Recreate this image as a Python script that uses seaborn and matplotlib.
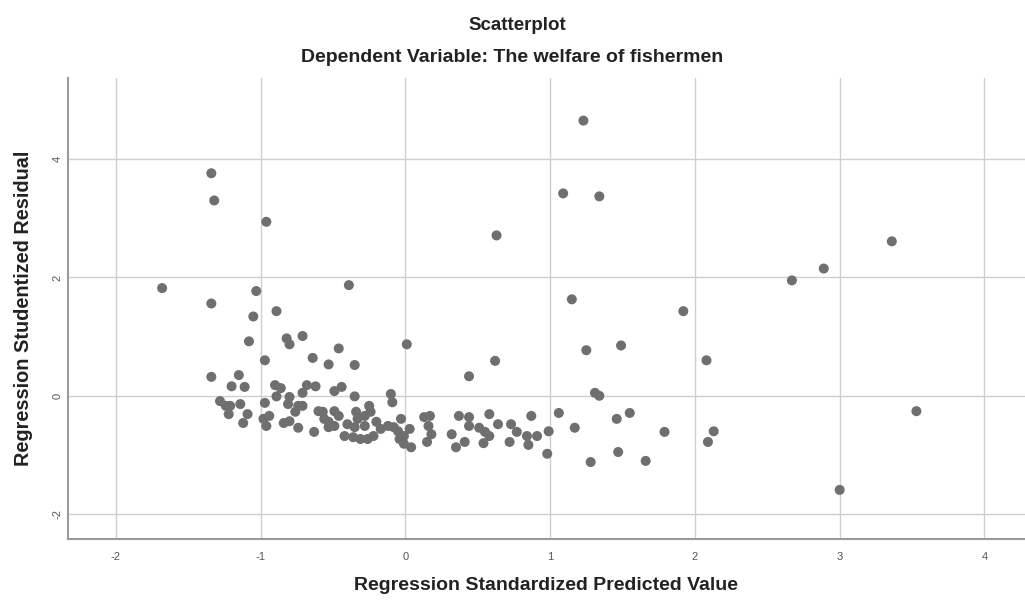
import numpy as np
import pandas as pd
import matplotlib
matplotlib.use("Agg")
import matplotlib.pyplot as plt
import seaborn as sns

pred_upper = [-1.68, -1.34, -1.32, -0.96, -1.34, -1.03, -1.05, -0.89, -0.39, -1.08,
              -0.82, -0.80, -0.71, -0.97, -0.64, -0.53, -0.35, -0.46, 0.01, -1.34,
              -1.15, -1.20, -1.11, -0.90, -0.86, -0.68, -0.62, -0.49, -0.44, -0.71,
              -0.80, -0.89, -0.35, -0.10, -0.09, 0.44, 0.62, 0.63]
resid_upper = [1.82, 3.76, 3.30, 2.94, 1.56, 1.77, 1.34, 1.43, 1.87, 0.92,
               0.97, 0.87, 1.01, 0.60, 0.64, 0.53, 0.52, 0.80, 0.87, 0.32,
               0.35, 0.16, 0.15, 0.18, 0.13, 0.18, 0.16, 0.08, 0.15, 0.05,
               -0.02, -0.01, -0.01, 0.03, -0.11, 0.33, 0.59, 2.71]

pred_cluster = [-1.28, -1.24, -1.21, -1.22, -1.14, -1.09, -1.12, -0.97, -0.98, -0.94,
                -0.96, -0.84, -0.80, -0.81, -0.74, -0.71, -0.76, -0.74, -0.63, -0.60,
                -0.57, -0.56, -0.53, -0.53, -0.49, -0.46, -0.49, -0.42, -0.40, -0.34,
                -0.33, -0.35, -0.36, -0.28, -0.25, -0.24, -0.28, -0.31, -0.26, -0.22,
                -0.20, -0.17, -0.12, -0.08, -0.05, -0.03, -0.01, -0.04, 0.03, -0.01,
                0.04, 0.13, 0.17, 0.16, 0.18, 0.15, 0.32, 0.37, 0.44, 0.44,
                0.41, 0.35, 0.58, 0.51, 0.55, 0.54, 0.58, 0.64, 0.73, 0.77,
                0.72, 0.84, 0.85, 0.91, 0.87, 0.99, 0.98]
resid_cluster = [-0.09, -0.17, -0.17, -0.31, -0.14, -0.31, -0.46, -0.12, -0.39, -0.34,
                 -0.51, -0.46, -0.43, -0.14, -0.17, -0.17, -0.27, -0.54, -0.61, -0.26,
                 -0.27, -0.39, -0.44, -0.53, -0.26, -0.34, -0.51, -0.68, -0.48, -0.27,
                 -0.39, -0.53, -0.70, -0.34, -0.17, -0.27, -0.51, -0.73, -0.73, -0.68,
                 -0.44, -0.56, -0.51, -0.53, -0.60, -0.39, -0.68, -0.73, -0.56, -0.81,
                 -0.87, -0.36, -0.34, -0.51, -0.65, -0.78, -0.65, -0.34, -0.36, -0.51,
                 -0.78, -0.87, -0.31, -0.54, -0.61, -0.80, -0.68, -0.48, -0.48, -0.61,
                 -0.78, -0.68, -0.83, -0.68, -0.34, -0.60, -0.98]

pred_right = [1.23, 1.09, 1.34, 3.36, 2.89, 2.67, 1.15, 1.92, 1.25, 1.49,
              2.08, 1.31, 1.34, 1.06, 1.17, 1.46, 1.55, 1.79, 2.13, 2.09,
              1.47, 1.28, 1.66, 3.53, 3.00]
resid_right = [4.65, 3.42, 3.37, 2.61, 2.15, 1.95, 1.63, 1.43, 0.77, 0.85,
               0.60, 0.05, 0.00, -0.29, -0.54, -0.39, -0.29, -0.61, -0.60, -0.78,
               -0.95, -1.12, -1.10, -0.26, -1.59]

x_ticks = [-2, -1, 0, 1, 2, 3, 4]
y_ticks = [-2, 0, 2, 4]

df = pd.DataFrame({
    "pred": pred_upper + pred_cluster + pred_right,
    "resid": resid_upper + resid_cluster + resid_right,
})

sns.set_style("whitegrid")
plt.rcParams['font.family'] = ['Liberation Sans', 'DejaVu Sans']
plt.rcParams['axes.unicode_minus'] = False

fig = plt.figure(figsize=(10.25, 6), dpi=100)
ax = fig.add_axes([68 / 1025, 1 - 539 / 600, 1 - 68 / 1025, (539 - 78) / 600])

sns.scatterplot(data=df, x="pred", y="resid", ax=ax, s=52, color="#6f6f6f",
                edgecolor="none", linewidth=0)

ax.set_xlim(-2.33, 4.28)
ax.set_ylim(-2.42, 5.37)
ax.set_xticks(x_ticks)
ax.set_yticks(y_ticks)
ax.set_xticklabels([str(v) for v in x_ticks])
ax.set_yticklabels([str(v) for v in y_ticks], rotation=90, va="center")
ax.tick_params(length=0, labelsize=8, colors="#555555")
ax.tick_params(axis="x", pad=9)
ax.tick_params(axis="y", pad=4)

ax.grid(True, color="#cfcfcf", linewidth=1)
for side in ["top", "right"]:
    ax.spines[side].set_visible(False)
for side in ["left", "bottom"]:
    ax.spines[side].set_color("#9a9a9a")
    ax.spines[side].set_linewidth(1.5)

ax.set_xlabel("Regression Standardized Predicted Value", fontsize=14,
              fontweight="bold", color="#222222", labelpad=11)
ax.set_ylabel("Regression Studentized Residual", fontsize=14.3,
              fontweight="bold", color="#222222", labelpad=14)

fig.text(0.505, 1 - 26 / 600, "Scatterplot", ha="center", va="center",
         fontsize=13.5, fontweight="bold", color="#222222")
fig.text(0.5, 1 - 58 / 600, "Dependent Variable: The welfare of fishermen",
         ha="center", va="center", fontsize=14, fontweight="bold", color="#222222")

fig.savefig("out.png", dpi=100)
